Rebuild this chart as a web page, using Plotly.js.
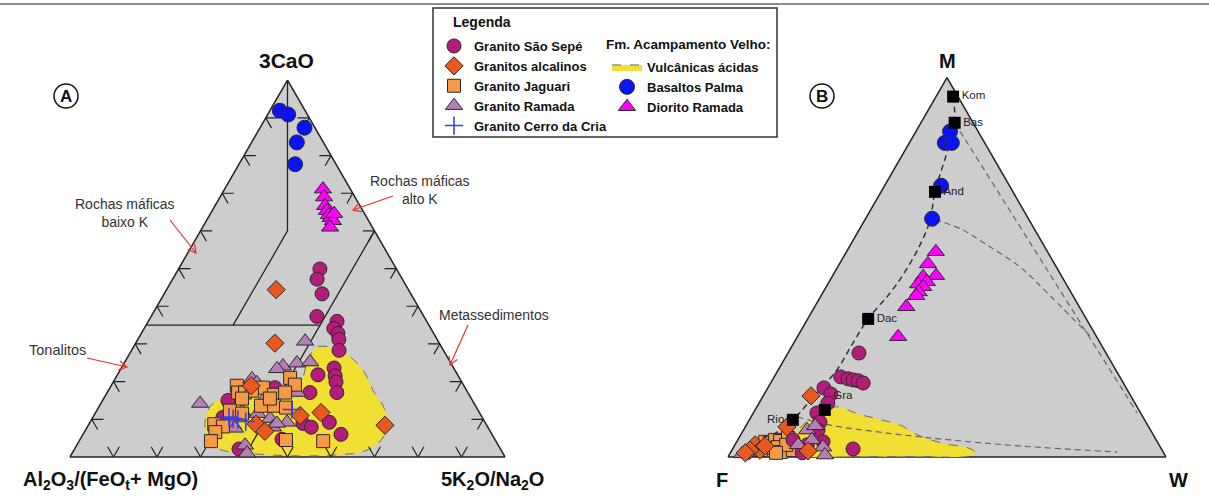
<!DOCTYPE html>
<html><head><meta charset="utf-8">
<script src="https://cdn.plot.ly/plotly-3.0.1.min.js"></script>
<style>html,body{margin:0;padding:0;background:#fff}#chart{width:1209px;height:502px}</style>
</head><body><div id="chart"></div>
<script>
// ---------- Diagram A: a = 3CaO (top), b = Al2O3/(FeOt+MgO) (left), c = 5K2O/Na2O (right)
const A_saoSepe_a = [0.499,0.472,0.433,0.373,0.360,0.341,0.328,0.312,0.283,0.236,0.215,0.199,0.171,0.218,0.171,0.089,0.079,0.092,0.060,0.047,0.021,0.150,0.105,0.184];
const A_saoSepe_b = [0.176,0.196,0.204,0.246,0.206,0.223,0.220,0.226,0.240,0.275,0.283,0.289,0.301,0.321,0.363,0.420,0.406,0.358,0.347,0.489,0.601,0.562,0.596,0.437];
const A_saoSepe_c = [0.325,0.332,0.363,0.381,0.434,0.436,0.452,0.462,0.477,0.489,0.502,0.512,0.528,0.461,0.466,0.491,0.515,0.550,0.593,0.464,0.378,0.288,0.299,0.379];

const A_alcal_a = [0.444,0.302,0.189,0.110,0.118,0.084,0.087,0.068];
const A_alcal_b = [0.304,0.378,0.489,0.416,0.364,0.234,0.529,0.518];
const A_alcal_c = [0.252,0.320,0.322,0.474,0.518,0.682,0.384,0.414];

const A_jag_a = [0.210,0.192,0.189,0.184,0.171,0.171,0.176,0.165,0.171,0.155,0.136,0.136,0.131,0.123,0.115,0.087,0.081,0.066,0.042,0.045,0.042,0.155];
const A_jag_b = [0.389,0.387,0.522,0.464,0.528,0.512,0.494,0.449,0.420,0.527,0.493,0.463,0.438,0.571,0.547,0.625,0.608,0.633,0.655,0.481,0.397,0.463];
const A_jag_c = [0.401,0.421,0.289,0.352,0.301,0.317,0.330,0.386,0.409,0.318,0.371,0.401,0.431,0.306,0.338,0.288,0.311,0.301,0.303,0.474,0.561,0.382];

const A_ram_a = [0.307,0.241,0.234,0.249,0.252,0.207,0.197,0.171,0.142,0.121,0.115,0.102,0.079,0.092,0.084,0.031,0.010,0.089,0.150,0.076];
const A_ram_b = [0.306,0.390,0.407,0.354,0.322,0.478,0.472,0.392,0.630,0.544,0.511,0.489,0.494,0.455,0.583,0.582,0.588,0.480,0.481,0.583];
const A_ram_c = [0.387,0.369,0.359,0.397,0.426,0.315,0.331,0.437,0.228,0.335,0.374,0.409,0.427,0.453,0.333,0.387,0.402,0.431,0.369,0.341];

const A_cria_a = [0.105,0.102,0.100,0.094,0.126];
const A_cria_b = [0.582,0.574,0.564,0.549,0.427];
const A_cria_c = [0.313,0.324,0.336,0.357,0.447];

const A_bas_a = [0.919,0.909,0.874,0.835,0.777];
const A_bas_b = [0.058,0.044,0.024,0.061,0.094];
const A_bas_c = [0.023,0.047,0.102,0.104,0.129];

const A_dio_a = [0.711,0.690,0.667,0.654,0.643,0.635,0.627,0.646,0.614];
const A_dio_b = [0.063,0.071,0.080,0.082,0.083,0.083,0.082,0.070,0.098];
const A_dio_c = [0.226,0.239,0.253,0.264,0.274,0.282,0.291,0.284,0.295];

const A_vulc_a = [0.294,0.289,0.262,0.226,0.176,0.129,0.084,0.045,0.016,0.005,0.003,0.008,0.013,0.026,0.060,0.097,0.136,0.157,0.168,0.173,0.181,0.207,0.249,0.278];
const A_vulc_b = [0.283,0.244,0.221,0.211,0.215,0.213,0.227,0.262,0.314,0.391,0.488,0.571,0.626,0.652,0.655,0.641,0.608,0.570,0.514,0.454,0.397,0.363,0.331,0.305];
const A_vulc_c = [0.423,0.467,0.517,0.563,0.609,0.658,0.689,0.693,0.670,0.604,0.509,0.421,0.361,0.322,0.285,0.262,0.256,0.273,0.318,0.373,0.422,0.430,0.420,0.417];

// field boundaries of diagram A (null = break)
const A_field_a = [1.00,0.60,0.35,null,0.35,0.35,null,0.60,0.00];
const A_field_b = [0.00,0.20,0.45,null,0.65,0.25,null,0.00,0.60];
const A_field_c = [0.00,0.20,0.20,null,0.00,0.40,null,0.40,0.40];

// ---------- Diagram B: a = M (top), b = F (left), c = W (right)
const B_saoSepe_a = [0.274,0.211,0.206,0.203,0.201,0.195,0.182,0.166,0.142,0.116,0.092,0.071,0.040,0.032,0.011,0.021,0.045,0.011];
const B_saoSepe_b = [0.564,0.637,0.623,0.613,0.602,0.594,0.690,0.682,0.701,0.739,0.744,0.759,0.763,0.803,0.825,0.704,0.829,0.953];
const B_saoSepe_c = [0.162,0.152,0.171,0.184,0.197,0.211,0.128,0.152,0.157,0.145,0.164,0.170,0.197,0.165,0.164,0.275,0.126,0.036];

const B_alcal_a = [0.161,0.079,0.016,0.032,0.018,0.018,0.011,0.029];
const B_alcal_b = [0.730,0.826,0.809,0.922,0.918,0.941,0.955,0.901];
const B_alcal_c = [0.109,0.095,0.175,0.046,0.064,0.041,0.034,0.070];

const B_jag_a = [0.040,0.037,0.045,0.042,0.050,0.024,0.026,0.013,0.018,0.032,0.018,0.011];
const B_jag_b = [0.895,0.886,0.870,0.860,0.838,0.890,0.873,0.873,0.843,0.851,0.916,0.885];
const B_jag_c = [0.065,0.077,0.085,0.098,0.112,0.086,0.101,0.114,0.139,0.117,0.066,0.104];

const B_ram_a = [0.071,0.082,0.026,0.005,0.008,0.032,0.045];
const B_ram_b = [0.784,0.760,0.770,0.776,0.964,0.824,0.786];
const B_ram_c = [0.145,0.158,0.204,0.219,0.028,0.144,0.169];

const B_bas_a = [0.858,0.828,0.828,0.715,0.628];
const B_bas_b = [0.064,0.091,0.075,0.156,0.220];
const B_bas_c = [0.078,0.081,0.097,0.129,0.152];

const B_dio_a = [0.541,0.509,0.478,0.475,0.462,0.456,0.449,0.435,0.425,0.396,0.317];
const B_dio_b = [0.255,0.289,0.286,0.317,0.315,0.338,0.330,0.347,0.358,0.395,0.453];
const B_dio_c = [0.204,0.202,0.236,0.208,0.223,0.206,0.221,0.218,0.217,0.209,0.230];

const B_vulc_a = [0.077,0.103,0.127,0.132,0.116,0.100,0.084,0.055,0.034,0.024,0.013,0.003,0.001,0.001,0.003,0.026,0.055];
const B_vulc_b = [0.797,0.757,0.708,0.678,0.652,0.608,0.565,0.534,0.485,0.440,0.430,0.446,0.561,0.714,0.834,0.839,0.820];
const B_vulc_c = [0.126,0.140,0.165,0.190,0.232,0.292,0.351,0.411,0.481,0.536,0.557,0.551,0.438,0.285,0.163,0.135,0.125];

// reference igneous rocks
const refNames = ['Kom','Bas','And','Dac','Gra','Rio'];
const ref_a = [0.950,0.881,0.699,0.364,0.124,0.098];
const ref_b = [0.011,0.042,0.178,0.498,0.717,0.803];
const ref_c = [0.039,0.077,0.123,0.138,0.159,0.099];

// igneous trend and weathering trends (a and c given, b = 1 - a - c)
const trend_a = [0.950,0.881,0.810,0.699,0.625,0.559,0.488,0.433,0.364,0.301,0.230,0.164,0.098,0.053];
const trend_c = [0.039,0.077,0.097,0.123,0.149,0.159,0.160,0.154,0.138,0.135,0.134,0.117,0.099,0.070];
const wt1_a = [0.881,0.116];
const wt1_c = [0.077,0.876];
const wt2_a = [0.625,0.602,0.562,0.501,0.425,0.314];
const wt2_c = [0.160,0.229,0.306,0.416,0.523,0.674];
const wt3_a = [0.106,0.084,0.063,0.045,0.029,0.013];
const wt3_c = [0.105,0.191,0.331,0.484,0.652,0.882];

// ---------- styles
const FONT = 'Liberation Sans, Arial, sans-serif';
const OUT = {color:'#2a2a2a', width:1};
const sty = {
  saoSepe:{symbol:'circle', color:'#b41c7c', size:14, line:OUT},
  alcal:{symbol:'diamond', color:'#e8581f', size:14, line:OUT},
  jag:{symbol:'square', color:'#f59a45', size:13, line:OUT},
  ram:{symbol:'triangle-up', color:'#b47fb5', size:15, line:OUT},
  cria:{symbol:'cross-thin', color:'#3a3aff', size:13, line:{color:'#3a3aff', width:1.6}},
  bas:{symbol:'circle', color:'#0814f5', size:15, line:OUT},
  dio:{symbol:'triangle-up', color:'#ff00ff', size:15, line:OUT}
};

function pts(sub, name, a, b, c, st, leg, show){
  return {type:'scatterternary', subplot:sub, mode:'markers', name:name, a:a, b:b, c:c,
    marker:st, cliponaxis:false, showlegend:show, legend:leg, hoverinfo:'skip'};
}
function line(sub, a, b, c, col, w, dash, shape){
  const t = {type:'scatterternary', subplot:sub, mode:'lines', a:a, c:c,
    line:{color:col, width:w, dash:dash, shape:shape||'linear'}, showlegend:false, hoverinfo:'skip', cliponaxis:false};
  if(b) t.b = b;
  return t;
}
function chevrons(d){
  const a=[],b=[],c=[];
  function seg(p,q){a.push(p[0],q[0],null);b.push(p[1],q[1],null);c.push(p[2],q[2],null);}
  for(let i=1;i<10;i++){const t=i/10;
    seg([t,1-t,0],[t,1-t-d,d]); seg([t,1-t,0],[t-d,1-t,d]);
    seg([0,1-t,t],[d,1-t,t-d]); seg([0,1-t,t],[d,1-t-d,t]);
    seg([t,0,1-t],[t,d,1-t-d]); seg([t,0,1-t],[t-d,d,1-t]);
  }
  return {a:a,b:b,c:c};
}
const ch = chevrons(0.027);

const data = [
  // A
  {type:'scatterternary', subplot:'ternary', mode:'lines', name:'Vulcânicas ácidas', a:A_vulc_a, b:A_vulc_b, c:A_vulc_c,
    fill:'toself', fillcolor:'#f2df33', line:{color:'#6a6a6a', width:1, dash:'dash', shape:'spline', smoothing:1},
    legend:'legend2', showlegend:true, hoverinfo:'skip'},
  line('ternary', A_field_a, A_field_b, A_field_c, '#222', 1.3, 'solid'),
  line('ternary', ch.a, ch.b, ch.c, '#222', 1.2, 'solid'),
  pts('ternary','Basaltos Palma',A_bas_a,A_bas_b,A_bas_c,sty.bas,'legend2',true),
  pts('ternary','Diorito Ramada',A_dio_a,A_dio_b,A_dio_c,sty.dio,'legend2',true),
  pts('ternary','Granito São Sepé',A_saoSepe_a,A_saoSepe_b,A_saoSepe_c,sty.saoSepe,'legend',true),
  pts('ternary','Granito Ramada',A_ram_a,A_ram_b,A_ram_c,sty.ram,'legend',true),
  pts('ternary','Granito Jaguari',A_jag_a,A_jag_b,A_jag_c,sty.jag,'legend',true),
  pts('ternary','Granitos alcalinos',A_alcal_a,A_alcal_b,A_alcal_c,sty.alcal,'legend',true),
  pts('ternary','Granito Cerro da Cria',A_cria_a,A_cria_b,A_cria_c,sty.cria,'legend',true),
  // B
  {type:'scatterternary', subplot:'ternary2', mode:'lines', name:'Vulcânicas ácidas', a:B_vulc_a, b:B_vulc_b, c:B_vulc_c,
    fill:'toself', fillcolor:'#f2df33', line:{color:'#6a6a6a', width:1, dash:'dash', shape:'spline', smoothing:1},
    showlegend:false, hoverinfo:'skip'},
  line('ternary2', trend_a, null, trend_c, '#333', 1.5, '6px,4px', 'spline'),
  line('ternary2', wt1_a, null, wt1_c, '#666', 1.2, '6px,4px', 'linear'),
  line('ternary2', wt2_a, null, wt2_c, '#666', 1.2, '6px,4px', 'spline'),
  line('ternary2', wt3_a, null, wt3_c, '#666', 1.2, '6px,4px', 'spline'),
  pts('ternary2','Basaltos Palma',B_bas_a,B_bas_b,B_bas_c,sty.bas,'legend2',false),
  pts('ternary2','Diorito Ramada',B_dio_a,B_dio_b,B_dio_c,sty.dio,'legend2',false),
  pts('ternary2','Granito Jaguari',B_jag_a,B_jag_b,B_jag_c,sty.jag,'legend',false),
  pts('ternary2','Granito São Sepé',B_saoSepe_a,B_saoSepe_b,B_saoSepe_c,sty.saoSepe,'legend',false),
  pts('ternary2','Granito Ramada',B_ram_a,B_ram_b,B_ram_c,sty.ram,'legend',false),
  pts('ternary2','Granitos alcalinos',B_alcal_a,B_alcal_b,B_alcal_c,sty.alcal,'legend',false),
  {type:'scatterternary', subplot:'ternary2', mode:'markers+text', a:ref_a, b:ref_b, c:ref_c, text:refNames,
    textposition:['middle right','middle right','middle right','middle right','top right','middle left'],
    textfont:{family:FONT, size:11.5, color:'#222'},
    marker:{symbol:'square', size:12, color:'#000'}, showlegend:false, cliponaxis:false, hoverinfo:'skip'}
];

const rankMap = {'Granito São Sepé':1,'Granitos alcalinos':2,'Granito Jaguari':3,'Granito Ramada':4,'Granito Cerro da Cria':5,
  'Vulcânicas ácidas':1,'Basaltos Palma':2,'Diorito Ramada':3};
data.forEach(t=>{ if(t.name && rankMap[t.name]) t.legendrank = rankMap[t.name]; });

const X = v => v/1209, Y = v => 1 - v/502;
function ax(){ return {showline:true, linecolor:'#222', linewidth:1.5, showgrid:false, showticklabels:false, ticks:'', layer:'below traces', title:{text:''}, min:0}; }

const annos = [];
function txt(t, x, y, size, bold, color, align){
  annos.push({text:t, x:X(x), y:Y(y), xref:'paper', yref:'paper', showarrow:false, xanchor:'center', yanchor:'middle',
    align:align||'center', font:{family:FONT, size:size, color:color||'#111', weight:bold?'bold':'normal'}});
}
txt('3CaO', 286, 60, 21, true);
txt('Al<sub>2</sub>O<sub>3</sub>/(FeO<sub>t</sub>+ MgO)', 110, 480, 20, true);
txt('5K<sub>2</sub>O/Na<sub>2</sub>O', 492, 480, 20, true);
txt('M', 947, 61, 20, true);
txt('F', 722, 480, 20, true);
txt('W', 1178, 480, 20, true);
txt('A', 66, 96, 17, true);
txt('B', 822, 96, 17, true);
txt('Rochas máficas<br>baixo K', 125, 213, 14, false, '#333');
txt('Rochas máficas<br>alto K', 420, 190, 14, false, '#333');
txt('Metassedimentos', 494, 315, 14, false, '#333');
txt('Tonalitos', 57, 350, 14.5, false, '#333');
annos.push({text:'Legenda', x:X(451), y:Y(22), xref:'paper', yref:'paper', showarrow:false, xanchor:'left', yanchor:'middle',
  font:{family:FONT, size:14, color:'#111', weight:'bold'}});
annos.push({text:'Fm. Acampamento Velho:', x:X(604), y:Y(44), xref:'paper', yref:'paper', showarrow:false, xanchor:'left', yanchor:'middle',
  font:{family:FONT, size:13.5, color:'#111', weight:'bold'}});

const shapes = [
  {type:'rect', xref:'paper', yref:'paper', x0:X(433), x1:X(777), y0:Y(8), y1:Y(137), line:{color:'#333', width:1.5}, fillcolor:'rgba(0,0,0,0)'},
  {type:'line', xref:'paper', yref:'paper', x0:0, x1:1, y0:Y(4), y1:Y(4), line:{color:'#666', width:1.5}},
  {type:'circle', xref:'paper', yref:'paper', x0:X(54), x1:X(78), y0:Y(84), y1:Y(108), line:{color:'#111', width:1.5}},
  {type:'circle', xref:'paper', yref:'paper', x0:X(810), x1:X(834), y0:Y(84), y1:Y(108), line:{color:'#111', width:1.5}}
];
// red pointer arrows (open heads), drawn as shapes
function arrow(hx, hy, tx, ty){
  const dx = hx-tx, dy = hy-ty, L = Math.hypot(dx,dy), ux = dx/L, uy = dy/L, s = 8, w = 4.5;
  const p1x = hx - ux*s - uy*w, p1y = hy - uy*s + ux*w;
  const p2x = hx - ux*s + uy*w, p2y = hy - uy*s - ux*w;
  const P = (x,y) => X(x)+','+Y(y);
  shapes.push({type:'path', xref:'paper', yref:'paper',
    path:'M'+P(tx,ty)+' L'+P(hx,hy)+' M'+P(p1x,p1y)+' L'+P(hx,hy)+' L'+P(p2x,p2y),
    line:{color:'#e8322c', width:1.2}});
}
arrow(196, 253, 170, 220);
arrow(353, 210, 393, 196);
arrow(450, 365, 468, 325);
arrow(127, 367, 87, 358);

const legFont = {family:FONT, size:13, color:'#111', weight:'bold'};
const layout = {
  width:1209, height:502, margin:{l:0,r:0,t:0,b:0}, paper_bgcolor:'#fff', hovermode:false,
  ternary:{sum:1, bgcolor:'#cdcdcd', domain:{x:[X(70), X(505)], y:[0.06494, 0.86494]}, aaxis:ax(), baxis:ax(), caxis:ax()},
  ternary2:{sum:1, bgcolor:'#cdcdcd', domain:{x:[X(728), X(1166)], y:[0.06753, 0.86753]}, aaxis:ax(), baxis:ax(), caxis:ax()},
  legend:{x:X(434), y:Y(31), xanchor:'left', yanchor:'top', bgcolor:'rgba(0,0,0,0)', font:legFont, traceorder:'normal', tracegroupgap:0},
  legend2:{x:X(607), y:Y(52), xanchor:'left', yanchor:'top', bgcolor:'rgba(0,0,0,0)', font:legFont, traceorder:'normal', tracegroupgap:0},
  annotations:annos, shapes:shapes
};
Plotly.newPlot('chart', data, layout, {staticPlot:true, displayModeBar:false});
</script></body></html>
